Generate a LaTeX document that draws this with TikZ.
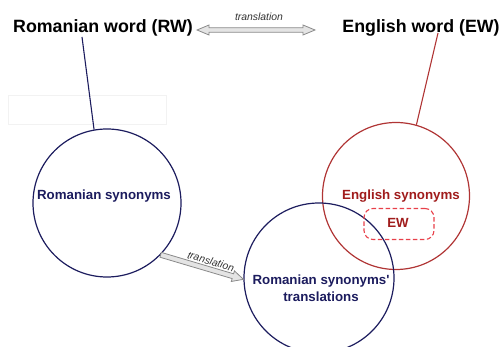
\documentclass[tikz,border=0pt]{standalone}
\usepackage{fontspec}
\setmainfont{Liberation Sans}[Ligatures=TeXOff]
\usetikzlibrary{calc}
\definecolor{navy}{HTML}{1C1C5E}
\definecolor{circred}{HTML}{B03535}
\definecolor{txtred}{HTML}{A01C1C}
\definecolor{dashred}{HTML}{E8404A}
\definecolor{arrfill}{HTML}{E4E4E4}
\definecolor{arrline}{HTML}{8A8A8A}
\definecolor{labgray}{HTML}{333333}
\begin{document}
\begin{tikzpicture}[x=1pt,y=-1pt,
  big/.style={font=\fontsize{17.8}{20}\selectfont\bfseries, inner sep=0, anchor=base},
  syn/.style={font=\fontsize{13.3}{17}\selectfont\bfseries, inner sep=0, anchor=base, align=center},
  circ/.style={circle, draw, line width=1.2pt, inner sep=0},
  link/.style={line width=1.1pt},
  trlabel/.style={font=\fontsize{10.4}{12}\selectfont\itshape, text=labgray, inner sep=0},
  hollowarrow/.style={fill=arrfill, draw=arrline, line width=0.8pt, line join=miter}
]
\useasboundingbox (0,0) rectangle (503,347);

% faint box
\draw[draw=black!5, line width=0.6pt] (8,95) rectangle (166,124);

% circles
\node[circ, draw=navy, minimum size=148pt] (lc) at (107,203) {};
\node[circ, draw=circred, minimum size=147pt] (rc) at (396,196) {};
\node[circ, draw=navy, minimum size=150pt] (bc) at (319,278) {};

% titles
\node[big] (RW) at (103,33) {Romanian word (RW)};
\node[big] (EW) at (421,33) {English word (EW)};

% circle texts
\node[syn, text=navy] (rs) at (104,200) {Romanian synonyms};
\node[syn, text=txtred] (es) at (401,200) {English synonyms};
\node[syn, text=navy] (rst) at (321,301) {Romanian synonyms'\\translations};

% dashed EW box
\node[draw=dashred, dash pattern=on 4.5pt off 2.5pt, line width=1.1pt, rounded corners=9pt,
      minimum width=70pt, minimum height=31pt, inner sep=0] (ewbox) at (399,224) {};
\node[syn, text=txtred] (ewin) at (398,228) {EW};

% connectors from words to circles
\coordinate (rwfoot) at ($(RW.base)+(-21,4)$);
\coordinate (ewfoot) at ($(EW.base)+(17,0)$);
\draw[link, draw=navy] (rwfoot) -- (lc.100);
\draw[link, draw=circred] (ewfoot) -- (rc.74.7);

% double translation arrow
\coordinate (da1) at (197,30);
\coordinate (da2) at (315,30);
\coordinate (dh1) at ($(da1)!12pt!(da2)$);
\coordinate (dh2) at ($(da2)!12pt!(da1)$);
\draw[hollowarrow] (da1)
  -- ($(dh1)!5pt!90:(da2)$) -- ($(dh1)!2.2pt!90:(da2)$)
  -- ($(dh2)!2.2pt!-90:(da1)$) -- ($(dh2)!5pt!-90:(da1)$)
  -- (da2)
  -- ($(dh2)!5pt!90:(da1)$) -- ($(dh2)!2.2pt!90:(da1)$)
  -- ($(dh1)!2.2pt!-90:(da2)$) -- ($(dh1)!5pt!-90:(da2)$)
  -- cycle;
\node[trlabel, anchor=base] (trl1) at (259,21) {translation};

% slanted translation arrow
\coordinate (sa1) at (lc.-44);
\coordinate (sa2) at (bc.181);
\coordinate (sh) at ($(sa2)!11pt!(sa1)$);
\draw[hollowarrow] ($(sa1)!2.5pt!90:(sa2)$)
  -- ($(sh)!2.5pt!90:(sa2)$) -- ($(sh)!5.5pt!90:(sa2)$)
  -- (sa2)
  -- ($(sh)!5.5pt!-90:(sa2)$) -- ($(sh)!2.5pt!-90:(sa2)$)
  -- ($(sa1)!2.5pt!-90:(sa2)$) -- cycle;
\path (sa1) -- (sa2) node[pos=0.58, sloped, trlabel, above=4pt] (trl2) {translation};
\end{tikzpicture}
\end{document}
